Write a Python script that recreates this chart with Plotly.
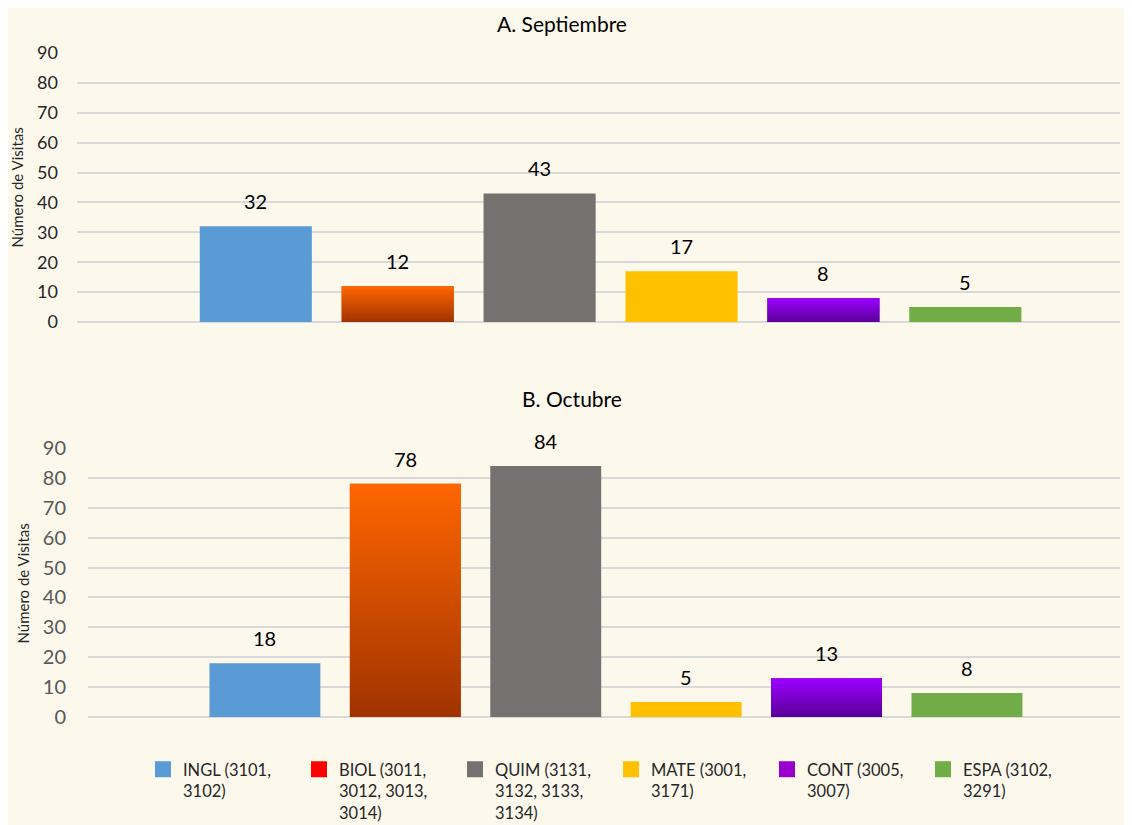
import plotly.graph_objects as go

# ---- data ----
cursos = ["INGL", "BIOL", "QUIM", "MATE", "CONT", "ESPA"]
leyendas = ["INGL (3101,<br>3102)", "BIOL (3011,<br>3012, 3013,<br>3014)",
            "QUIM (3131,<br>3132, 3133,<br>3134)", "MATE (3001,<br>3171)",
            "CONT (3005,<br>3007)", "ESPA (3102,<br>3291)"]
septiembre = [32, 12, 43, 17, 8, 5]
octubre = [18, 78, 84, 5, 13, 8]
yticks = [0, 10, 20, 30, 40, 50, 60, 70, 80, 90]

# ---- styles ----
legend_colors = ["#5b9bd5", "#ff0000", "#767171", "#ffc000", "#9900cc", "#70ad47"]
bar_colors = ["#5b9bd5", "#d24d00", "#767171", "#ffc000", "#7a00cc", "#70ad47"]
gradients = {1: ["#a03300", "#ff6600"], 4: ["#5a0099", "#9d00ff"]}
BW = 0.79
FONT = "Lato, 'Open Sans', sans-serif"
W, H = 1132, 825
OFF = 8  # page body margin


def px(x):
    return (x - OFF) / W


def py(y):
    return 1 - (y - OFF) / H


fig = go.Figure()

panels = [(septiembre, "x", "y"), (octubre, "x2", "y2")]
for vals, xa, ya in panels:
    for i, (c, v) in enumerate(zip(cursos, vals)):
        fig.add_trace(go.Bar(x=[i], y=[v], width=BW, marker=dict(color=bar_colors[i], line=dict(width=0)),
                             xaxis=xa, yaxis=ya, showlegend=False, name=c, hoverinfo="y"))
        if i in gradients:
            x0, x1 = i - BW / 2, i + BW / 2
            fig.add_trace(go.Scatter(x=[x0, x1, x1, x0, x0], y=[0, 0, v, v, 0], mode="lines",
                                     line=dict(width=0), fill="toself",
                                     fillgradient=dict(type="vertical",
                                                       colorscale=[[0, gradients[i][0]], [1, gradients[i][1]]]),
                                     xaxis=xa, yaxis=ya, showlegend=False, hoverinfo="skip"))

# legend-only entries
for lab, col in zip(leyendas, legend_colors):
    fig.add_trace(go.Scatter(x=[None], y=[None], mode="markers", name=lab,
                             marker=dict(symbol="square", size=17, color=col, line=dict(width=0))))

annotations = []
for vals, xa, ya in panels:
    for i, v in enumerate(vals):
        annotations.append(dict(x=i, y=v, xref=xa, yref=ya, text=str(v), showarrow=False,
                                yanchor="middle", yshift=25, font=dict(size=20, color="#000000", family=FONT)))

# titles
annotations.append(dict(x=px(562), y=py(23), xref="paper", yref="paper", text="A. Septiembre",
                        showarrow=False, xanchor="center", yanchor="middle",
                        font=dict(size=21, color="#000000", family=FONT)))
annotations.append(dict(x=px(572), y=py(399), xref="paper", yref="paper", text="B. Octubre",
                        showarrow=False, xanchor="center", yanchor="middle",
                        font=dict(size=21, color="#000000", family=FONT)))
# y-axis titles
annotations.append(dict(x=px(17), y=py(187.5), xref="paper", yref="paper", text="Número de Visitas",
                        textangle=-90, showarrow=False, xanchor="center", yanchor="middle",
                        font=dict(size=15, color="#262626", family=FONT)))
annotations.append(dict(x=px(22), y=py(583.5), xref="paper", yref="paper", text="Número de Visitas",
                        textangle=-90, showarrow=False, xanchor="center", yanchor="middle",
                        font=dict(size=15, color="#262626", family=FONT)))

xr = [-1.26, 6.09]
common_x = dict(range=xr, showgrid=False, zeroline=False, showticklabels=False, showline=False, fixedrange=True)
common_y = dict(range=[0, 90], tickvals=yticks, showgrid=True, gridcolor="#d9d9d9", gridwidth=1.5,
                zeroline=True, zerolinecolor="#d9d9d9", zerolinewidth=1.5, showline=False, ticks="")

fig.update_layout(
    width=W, height=H,
    margin=dict(l=0, r=0, t=0, b=0, autoexpand=False),
    paper_bgcolor="#fcf8ec", plot_bgcolor="rgba(0,0,0,0)",
    font=dict(family=FONT),
    barmode="overlay",
    xaxis=dict(domain=[px(77), px(1120)], anchor="y", **common_x),
    xaxis2=dict(domain=[px(88), px(1120)], anchor="y2", **common_x),
    yaxis=dict(domain=[py(322), py(53)], anchor="x", ticklabelstandoff=18,
               tickfont=dict(size=18, color="#262626", family=FONT), **common_y),
    yaxis2=dict(domain=[py(717), py(448)], anchor="x2", ticklabelstandoff=21,
                tickfont=dict(size=20, color="#595959", family=FONT), **common_y),
    legend=dict(orientation="h", x=px(143), y=py(752), xanchor="left", yanchor="top",
                valign="top", itemsizing="trace", entrywidth=111, entrywidthmode="pixels",
                font=dict(size=16.5, color="#262626", family=FONT), bgcolor="rgba(0,0,0,0)"),
    annotations=annotations,
    showlegend=True,
)

fig.write_html("out.html")
